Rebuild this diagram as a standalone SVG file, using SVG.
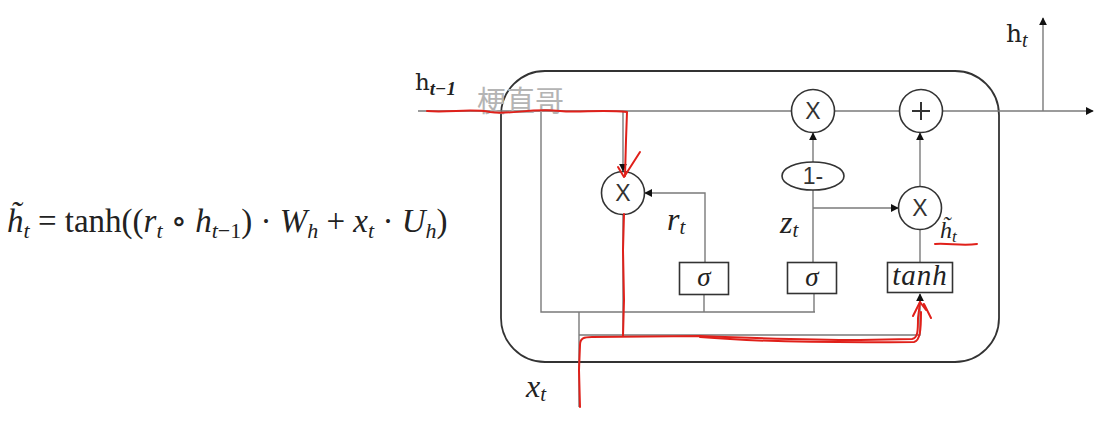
<svg xmlns="http://www.w3.org/2000/svg" width="1104" height="430" viewBox="0 0 1104 430">
  <defs>
    <marker id="arr" viewBox="0 0 10 10" refX="9" refY="5" markerWidth="8" markerHeight="8" markerUnits="userSpaceOnUse" orient="auto">
      <path d="M0,0 L10,5 L0,10 z" fill="#111"/>
    </marker>
    <style>
      .ln { fill: none; stroke: #7a7a7a; stroke-width: 1.4; }
      .op { fill: #fff; stroke: #333; stroke-width: 1.6; }
      .bx { fill: #fff; stroke: #333; stroke-width: 1.6; }
      .sym { font-family: "Liberation Sans", "DejaVu Sans", sans-serif; font-size: 23px; fill: #333; text-anchor: middle; }
      .mi { font-family: "Liberation Serif", "DejaVu Serif", serif; font-style: italic; fill: #222; }
      .rm { font-family: "Liberation Serif", "DejaVu Serif", serif; fill: #222; }
      .hl { font-family: "DejaVu Serif", "Liberation Serif", serif; fill: #222; }
      .red { fill: none; stroke: #e0201a; stroke-width: 2; stroke-linecap: round; stroke-linejoin: round; }
    </style>
  </defs>
  <rect width="1104" height="430" fill="#fff"/>

  <!-- formula -->
  <g id="formula">
    <text class="rm" x="7" y="232" font-size="33"><tspan class="mi">h̃</tspan><tspan class="mi" font-size="22" dy="6">t</tspan><tspan dy="-6"> = tanh((</tspan><tspan class="mi">r</tspan><tspan class="mi" font-size="22" dy="6">t</tspan><tspan dy="-6"> ∘ </tspan><tspan class="mi">h</tspan><tspan class="mi" font-size="22" dy="6">t</tspan><tspan font-size="22">−1</tspan><tspan dy="-6">) · </tspan><tspan class="mi">W</tspan><tspan class="mi" font-size="22" dy="6">h</tspan><tspan dy="-6"> + </tspan><tspan class="mi">x</tspan><tspan class="mi" font-size="22" dy="6">t</tspan><tspan dy="-6"> · </tspan><tspan class="mi">U</tspan><tspan class="mi" font-size="22" dy="6">h</tspan><tspan dy="-6">)</tspan></text>
  </g>

  <!-- cell outline -->
  <g id="cell">
    <rect x="501" y="71" width="498" height="291" rx="44" ry="44" fill="none" stroke="#333" stroke-width="1.8"/>
  </g>

  <!-- connectors -->
  <g id="connectors">
    <path class="ln" d="M418,111 H1093" marker-end="url(#arr)"/>
    <path class="ln" d="M1043,111 V18" marker-end="url(#arr)"/>
    <path class="ln" d="M541,111 V312 H815"/>
    <path class="ln" d="M704,312 V295"/>
    <path class="ln" d="M814,312 V294"/>
    <path class="ln" d="M579,407 V312"/>
    <path class="ln" d="M579,335 H920 V294" marker-end="url(#arr)"/>
    <path class="ln" d="M623,214 V335"/>
    <path class="ln" d="M623,111 V171" marker-end="url(#arr)"/>
    <path class="ln" d="M705,262 V193 H645" marker-end="url(#arr)"/>
    <path class="ln" d="M813,262 V190"/>
    <path class="ln" d="M813,208 H898" marker-end="url(#arr)"/>
    <path class="ln" d="M813,162 V133" marker-end="url(#arr)"/>
    <path class="ln" d="M920,262 V230"/>
    <path class="ln" d="M920,186 V133" marker-end="url(#arr)"/>
  </g>

  <!-- nodes -->
  <g id="mul_r">
    <circle class="op" cx="623" cy="193" r="21.5"/>
    <text class="sym" x="623" y="201">X</text>
  </g>
  <g id="mul_z">
    <circle class="op" cx="813" cy="111" r="21.5"/>
    <text class="sym" x="813" y="119">X</text>
  </g>
  <g id="add">
    <circle class="op" cx="921" cy="111" r="21.5"/>
    <path d="M921,102 V120 M912,111 H930" stroke="#333" stroke-width="2" fill="none"/>
  </g>
  <g id="one_minus">
    <ellipse class="op" cx="813" cy="176" rx="31" ry="14"/>
    <text class="sym" x="813" y="184" font-size="21">1-</text>
  </g>
  <g id="mul_h">
    <circle class="op" cx="920" cy="208" r="21.5"/>
    <text class="sym" x="920" y="216">X</text>
  </g>
  <g id="sigma_r">
    <rect class="bx" x="679.5" y="262.5" width="49" height="32"/>
    <text class="mi" x="704" y="286" font-size="27" text-anchor="middle">σ</text>
  </g>
  <g id="sigma_z">
    <rect class="bx" x="787.5" y="262.5" width="49" height="31"/>
    <text class="mi" x="812" y="286" font-size="27" text-anchor="middle">σ</text>
  </g>
  <g id="tanh">
    <rect class="bx" x="887.5" y="262.5" width="65" height="30"/>
    <text class="mi" x="920" y="285" font-size="29" text-anchor="middle" letter-spacing="1">tanh</text>
  </g>

  <!-- labels -->
  <g id="labels">
    <text class="hl" x="415" y="90" font-size="23">h<tspan class="mi" font-size="19" dy="5" font-weight="bold">t−1</tspan></text>
    <text class="hl" x="1006" y="42" font-size="25">h<tspan class="mi" font-size="20" dy="5">t</tspan></text>
    <text class="mi" x="667" y="230" font-size="32">r<tspan font-size="21" dy="4">t</tspan></text>
    <text class="mi" x="780" y="233" font-size="32">z<tspan font-size="21" dy="4">t</tspan></text>
    <text class="mi" x="940" y="238" font-size="24">h̃<tspan font-size="17" dy="4">t</tspan></text>
    <text class="mi" x="526" y="397" font-size="32">x<tspan font-size="21" dy="4">t</tspan></text>
    <text x="477" y="112" font-family="'Noto Sans CJK SC', sans-serif" font-size="29" fill="#b4b4b4">梗直哥</text>
  </g>

  <!-- red hand annotations -->
  <g id="annotations">
    <path class="red" d="M427,111 C450,113 470,108 490,112 C510,115 530,108 560,111 C580,113 600,109 627,112 L626,140 L625,176"/>
    <path class="red" d="M640,152 L624,177 M618,167 L624,177"/>
    <path class="red" d="M624,214 L623,250 L624,300 L623,336"/>
    <path class="red" d="M580,407 L579,370 L580,345 C580,338 584,337 592,337 L700,336 C750,338 800,340 860,340 L912,339 C918,338 918,330 918,318 L920,302"/>
    <path class="red" d="M700,337 C760,342 820,343 914,342 C920,341 921,330 921,312 M913,316 L920,302 L926,310 M924,304 L931,318"/>
    <path class="red" d="M935,244 C948,243 962,246 977,244"/>
  </g>
</svg>
